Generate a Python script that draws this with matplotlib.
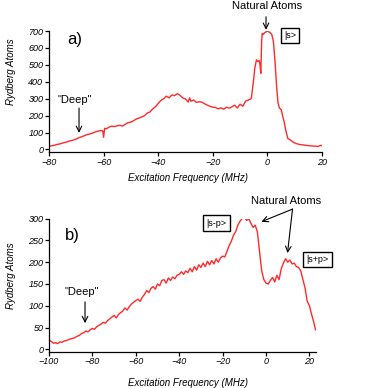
import matplotlib
matplotlib.use('Agg')
import matplotlib.pyplot as plt

plt.rcParams['font.family'] = ['Liberation Sans', 'DejaVu Sans']

# panel a) spectrum
freq_a = [-80, -79, -78, -77, -76, -75, -74, -73, -72, -71, -70, -69, -68, -67, -66,
          -65, -64, -63, -62, -61, -60.3, -60, -59.6, -59, -58, -57, -56, -55, -54, -53,
          -52, -51, -50, -49, -48, -47, -46, -45, -44, -43, -42, -41, -40, -39, -38,
          -37, -36, -35, -34, -33, -32, -31, -30, -29, -28.5, -28, -27, -26, -25, -24,
          -23, -22, -21, -20, -19, -18, -17, -16, -15, -14, -13, -12, -11, -10, -9,
          -8, -7, -6, -5.8, -5.2, -4.6, -4, -3.5, -3, -2.7, -2.4, -2.1, -1.9, -1.5,
          -1, -0.5, 0, 0.5, 1, 1.6, 2.2, 2.8, 3.4, 3.9, 4.4, 5.1, 5.7, 6.2, 6.7,
          7.5, 8.5, 9.3, 10.5, 11.7, 13, 14, 15.4, 17, 18.5, 19.6, 20]
atoms_a = [18, 22, 25, 30, 33, 38, 42, 47, 52, 56, 62, 70, 75, 82, 88,
           92, 97, 104, 108, 112, 110, 72, 125, 122, 132, 138, 135, 140, 143, 138,
           150, 158, 162, 170, 180, 186, 192, 200, 215, 222, 240, 252, 272, 290, 300,
           315, 305, 322, 318, 330, 320, 305, 298, 280, 305, 285, 292, 278, 282, 280,
           270, 262, 255, 250, 248, 240, 246, 238, 250, 244, 252, 262, 245, 268, 255,
           285, 292, 300, 312, 390, 480, 530, 520, 525, 500, 450, 640, 685, 680,
           690, 695, 700, 695, 690, 680, 640, 520, 370, 275, 245, 235, 190, 160, 115,
           65, 55, 45, 35, 30, 27, 25, 22, 20, 18, 25, 22]

# panel b) spectrum
freq_b = list(range(-100, 23)) + [22.8]
atoms_b = [21, 18, 14, 15, 13, 17, 16, 19, 20, 22,
           24, 25, 27, 30, 32, 36, 38, 42, 40, 45,
           48, 46, 52, 55, 58, 62, 60, 66, 70, 74,
           78, 72, 80, 84, 88, 95, 90, 98, 104, 108,
           112, 115, 110, 120, 126, 135, 130, 140, 144, 138,
           150, 146, 158, 160, 152, 164, 158, 166, 162, 170,
           172, 178, 172, 180, 176, 186, 178, 190, 182, 194,
           188, 198, 190, 202, 194, 204, 196, 208, 200, 210,
           214, 212, 225, 238, 248, 262, 270, 285, 294, 300,
           305, 296, 300, 290, 280, 285, 270, 225, 180, 160,
           152, 150, 158, 165, 155, 170, 160, 185, 198, 208,
           200, 205, 196, 198, 190, 188, 180, 160, 140, 110,
           100, 80, 62, 45]

xticks_a = [-80, -60, -40, -20, 0, 20]
yticks_a = [0, 100, 200, 300, 400, 500, 600, 700]
xticks_b = [-100, -80, -60, -40, -20, 0, 20]
yticks_b = [0, 50, 100, 150, 200, 250, 300]

red = '#ff2a2a'
box = dict(boxstyle='square,pad=0.35', fc='white', ec='black', lw=1.0)
arrow = dict(arrowstyle='->', lw=0.8, color='k', shrinkA=0, shrinkB=0)
fig = plt.figure(figsize=(3.76, 3.88), dpi=100)


def style_axes(ax, xticks, yticks):
    ax.spines['top'].set_visible(False)
    ax.spines['right'].set_visible(False)
    for s in ('left', 'bottom'):
        ax.spines[s].set_linewidth(0.9)
    ax.set_xticks(xticks)
    ax.set_yticks(yticks)
    ax.tick_params(direction='out', length=3, width=0.9, labelsize=6.5, pad=1)
    for lab in ax.get_xticklabels() + ax.get_yticklabels():
        lab.set_fontstyle('italic')
    ax.set_xlabel('Excitation Frequency (MHz)', fontsize=7, style='italic')
    ax.set_ylabel('Rydberg Atoms', fontsize=7, style='italic')


# ---- a)
ax1 = fig.add_axes([0.1303, 0.6082, 0.726, 0.3119])
ax1.plot(freq_a, atoms_a, color=red, lw=1.0)
ax1.set_xlim(-80, 20)
ax1.set_ylim(-15, 700)
style_axes(ax1, xticks_a, yticks_a)
ax1.xaxis.set_label_coords(0.509, -0.172)
ax1.yaxis.set_label_coords(-0.121, 0.66)
ax1.text(-70.5, 648, 'a)', fontsize=12, ha='center', va='center')
ax1.text(-0.15, 849, 'Natural Atoms', fontsize=8, ha='center', va='center', clip_on=False)
ax1.annotate('', xy=(-0.5, 707), xytext=(-0.5, 784), annotation_clip=False, arrowprops=arrow)
ax1.text(8.3, 672, '|s>', fontsize=6.5, ha='center', va='center', bbox=box)
ax1.text(-70.5, 293, '"Deep"', fontsize=8, ha='center', va='center')
ax1.annotate('', xy=(-69, 98), xytext=(-69, 245), arrowprops=arrow)

# ---- b)
ax2 = fig.add_axes([0.1303, 0.0936, 0.710, 0.3428])
ax2.plot(freq_b, atoms_b, color=red, lw=1.0)
ax2.set_xlim(-100, 23)
ax2.set_ylim(-5.5, 300)
style_axes(ax2, xticks_b, yticks_b)
ax2.xaxis.set_label_coords(0.52, -0.196)
ax2.yaxis.set_label_coords(-0.124, 0.57)
ax2.text(-89.4, 262, 'b)', fontsize=12, ha='center', va='center')
ax2.text(9.4, 341, 'Natural Atoms', fontsize=8, ha='center', va='center', clip_on=False)
for tip in [(-2.1, 293), (9.9, 221)]:
    ax2.annotate('', xy=tip, xytext=(12.2, 322), annotation_clip=False, arrowprops=arrow)
ax2.text(-22.8, 290, '|s-p>', fontsize=6.5, ha='center', va='center', bbox=box)
ax2.text(23.7, 207, '|s+p>', fontsize=6.5, ha='center', va='center', clip_on=False, bbox=box)
ax2.text(-84.8, 132, '"Deep"', fontsize=8, ha='center', va='center')
ax2.annotate('', xy=(-83.4, 60), xytext=(-83.4, 109), arrowprops=arrow)

fig.savefig('out.png', dpi=100)
